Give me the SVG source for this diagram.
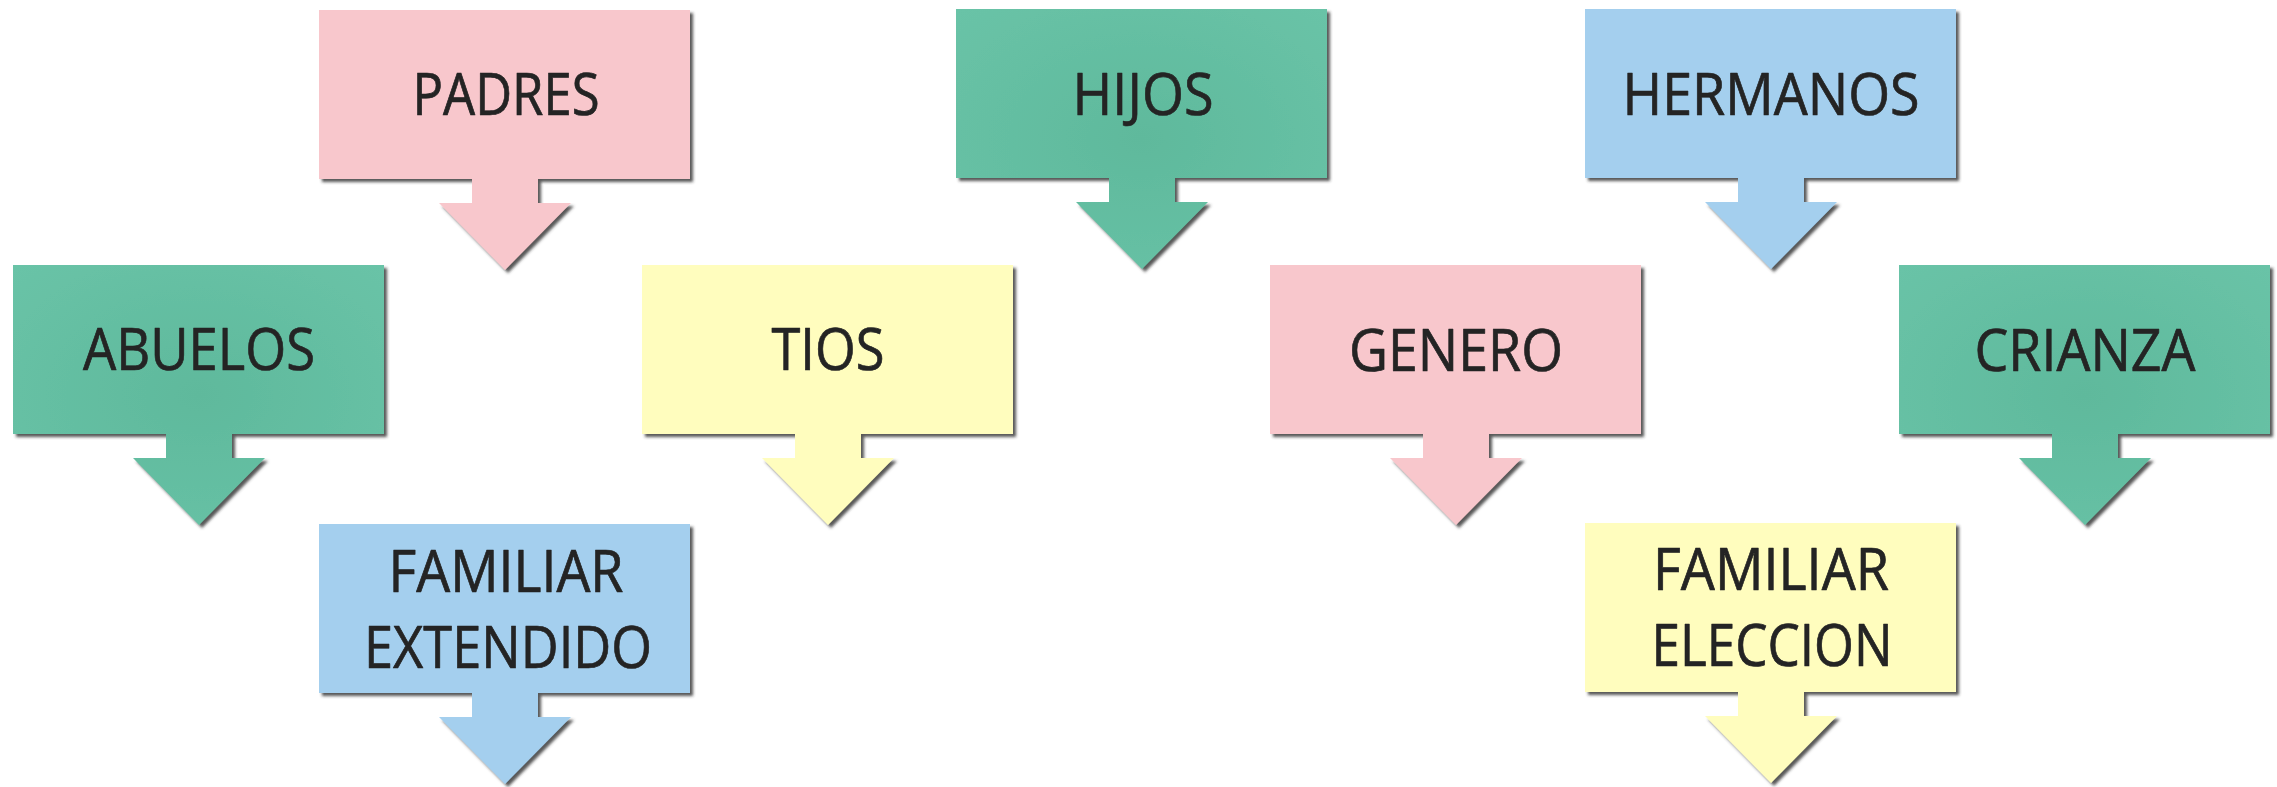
<svg xmlns="http://www.w3.org/2000/svg" xmlns:xlink="http://www.w3.org/1999/xlink" width="2277" height="787" viewBox="0 0 2277 787">
  <style>
    .lbl { font-family: "Open Sans", "Liberation Sans", sans-serif; font-size: 58px; fill: #242424; stroke: #242424; stroke-width: 0.7px; stroke-linejoin: round; text-anchor: middle; }
    .pink { fill: #F8C7CC; }
    .green { fill: url(#gGreen); }
    .blue { fill: #A4CFEE; }
    .yellow { fill: #FFFDBE; }
    .shape { filter: url(#shadow); }
  </style>
  <defs>
    <filter id="shadow" x="-5%" y="-5%" width="115%" height="115%">
      <feDropShadow dx="3" dy="3" stdDeviation="1.5" flood-color="#3a3a3a" flood-opacity="0.85"/>
    </filter>
    <radialGradient id="gGreen" cx="0.5" cy="0.5" r="0.7">
      <stop offset="0" stop-color="#5FB99C"/>
      <stop offset="1" stop-color="#69C3A7"/>
    </radialGradient>
    <path id="callout" d="M0,0 H371 V169 H219 V193 H252 L186,260 L120,193 H153 V169 H0 Z"/>
  </defs>

  <rect width="2277" height="787" fill="#FFFFFF"/>

  <g id="connectors"></g>

  <g id="node-padres" transform="translate(319,10)">
    <use xlink:href="#callout" class="shape pink"/>
    <text class="lbl" x="187" y="105" textLength="187" lengthAdjust="spacingAndGlyphs">PADRES</text>
  </g>

  <g id="node-hijos" transform="translate(956,9)">
    <use xlink:href="#callout" class="shape green"/>
    <text class="lbl" x="187" y="106" textLength="141" lengthAdjust="spacingAndGlyphs">HIJOS</text>
  </g>

  <g id="node-hermanos" transform="translate(1585,9)">
    <use xlink:href="#callout" class="shape blue"/>
    <text class="lbl" x="186" y="106" textLength="297" lengthAdjust="spacingAndGlyphs">HERMANOS</text>
  </g>

  <g id="node-abuelos" transform="translate(13,265)">
    <use xlink:href="#callout" class="shape green"/>
    <text class="lbl" x="186" y="105" textLength="232" lengthAdjust="spacingAndGlyphs">ABUELOS</text>
  </g>

  <g id="node-tios" transform="translate(642,265)">
    <use xlink:href="#callout" class="shape yellow"/>
    <text class="lbl" x="186" y="105" textLength="113" lengthAdjust="spacingAndGlyphs">TIOS</text>
  </g>

  <g id="node-genero" transform="translate(1270,265)">
    <use xlink:href="#callout" class="shape pink"/>
    <text class="lbl" x="186" y="106" textLength="214" lengthAdjust="spacingAndGlyphs">GENERO</text>
  </g>

  <g id="node-crianza" transform="translate(1899,265)">
    <use xlink:href="#callout" class="shape green"/>
    <text class="lbl" x="186" y="106" textLength="221" lengthAdjust="spacingAndGlyphs">CRIANZA</text>
  </g>

  <g id="node-familiar-extendido" transform="translate(319,524)">
    <use xlink:href="#callout" class="shape blue"/>
    <text class="lbl" x="187" y="68" textLength="235" lengthAdjust="spacingAndGlyphs">FAMILIAR</text>
    <text class="lbl" x="189" y="144" textLength="288" lengthAdjust="spacingAndGlyphs">EXTENDIDO</text>
  </g>

  <g id="node-familiar-eleccion" transform="translate(1585,523)">
    <use xlink:href="#callout" class="shape yellow"/>
    <text class="lbl" x="186" y="67" textLength="236" lengthAdjust="spacingAndGlyphs">FAMILIAR</text>
    <text class="lbl" x="187" y="143" textLength="241" lengthAdjust="spacingAndGlyphs">ELECCION</text>
  </g>
</svg>
